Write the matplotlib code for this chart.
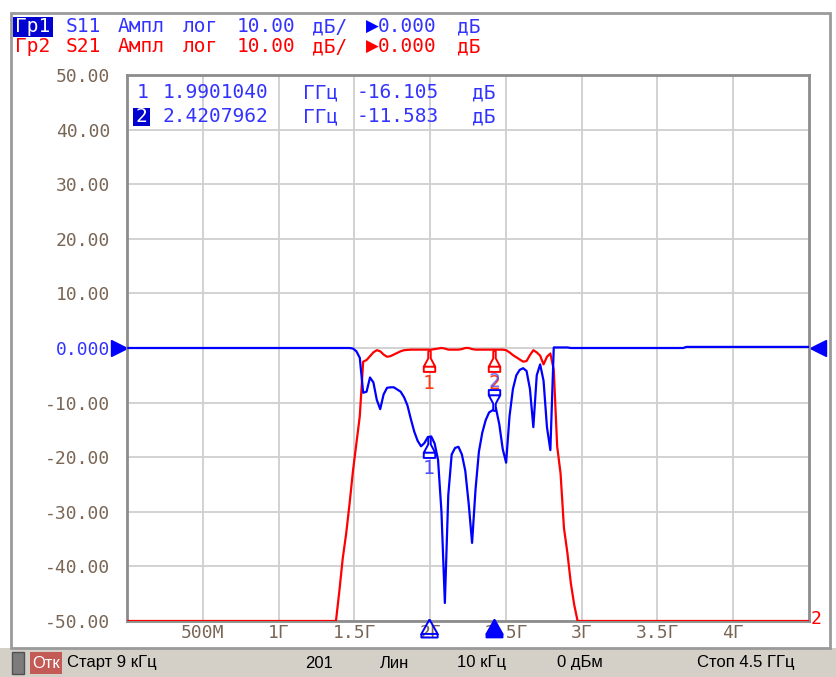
import numpy as np
import matplotlib.pyplot as plt
from matplotlib.path import Path
from matplotlib.patches import Rectangle
from matplotlib import transforms

W, H = 836, 677

# sweep settings
f_start, f_stop, n_pts = 0.009, 4.5, 201
freq = np.linspace(f_start, f_stop, n_pts)

# S21 (dB), points 61..132; outside this range the trace sits at -50
s21_first = 61
s21_band = [-50.0, -44.5, -38.5, -34.0, -28.5, -22.5, -17.5, -12.5, -2.5, -2.2,
            -1.5, -0.8, -0.4, -0.6, -1.2, -1.6, -1.5, -1.2, -0.9, -0.6,
            -0.4, -0.35, -0.3, -0.3, -0.3, -0.3, -0.3, -0.3, -0.3, -0.2,
            -0.1, 0.0, -0.1, -0.3, -0.3, -0.3, -0.3, -0.2, 0.0, 0.0,
            -0.2, -0.3, -0.3, -0.3, -0.3, -0.3, -0.3, -0.3, -0.3, -0.3,
            -0.4, -0.8, -1.3, -1.7, -2.1, -2.5, -2.4, -1.3, -0.4, -0.8,
            -1.4, -3.0, -1.6, -1.0, -4.0, -18.0, -23.0, -33.0, -37.5, -43.0,
            -47.0, -50.0]
s21_floor = -50.0

# S11 (dB), points 66..125
s11_first = 66
s11_band = [-0.1, -0.6, -1.8, -8.2, -8.0, -5.4, -6.3, -9.5, -11.2, -8.5,
            -7.3, -7.2, -7.2, -7.6, -8.0, -9.0, -10.5, -13.0, -15.3, -17.0,
            -18.0, -17.4, -16.3, -16.2, -17.5, -20.5, -30.0, -46.7, -27.0, -19.5,
            -18.3, -18.1, -19.5, -22.5, -28.5, -35.7, -26.0, -19.0, -15.5, -13.2,
            -11.8, -11.4, -11.0, -14.0, -18.5, -21.0, -12.5, -7.5, -5.0, -4.0,
            -3.7, -4.2, -7.5, -14.5, -5.0, -3.0, -6.0, -14.5, -18.7, 0.1]
s11_tail = [0.1, 0.1, 0.1, 0.1] + [0.0] * 34 + [0.2] * 37

# markers on S11
mk_freq = [1.9901040, 2.4207962]
mk_s11 = [-16.105, -11.583]

x_ticks = [0.5, 1.0, 1.5, 2.0, 2.5, 3.0, 3.5, 4.0]
x_labels = ['500М', '1Г', '1.5Г', '2Г', '2.5Г', '3Г', '3.5Г', '4Г']
y_ticks = [50, 40, 30, 20, 10, 0, -10, -20, -30, -40, -50]
y_labels = ['50.00', '40.00', '30.00', '20.00', '10.00', '0.000',
            '-10.00', '-20.00', '-30.00', '-40.00', '-50.00']

s21 = np.full(n_pts, s21_floor)
s21[s21_first:s21_first + len(s21_band)] = s21_band
s11 = np.zeros(n_pts)
s11[s11_first:s11_first + len(s11_band)] = s11_band
s11[n_pts - len(s11_tail):] = s11_tail

BLUE = '#0000ff'
TBLUE = '#3333ff'
RED = '#ff0000'
LBL = '#7a6656'
MONO = ['DejaVu Sans Mono', 'DejaVu Sans']
SANS = ['Liberation Sans', 'DejaVu Sans']


def fx(x):
    return x / W


def fy(y):
    return 1 - y / H


fig = plt.figure(figsize=(W / 100, H / 100), dpi=100)
fig.patch.set_facecolor('white')

# status bar and window frame
fig.patches.append(Rectangle((0, 0), 1, fy(648), transform=fig.transFigure,
                             facecolor='#d4d0c8', edgecolor='none', zorder=0))
fig.patches.append(Rectangle((fx(11), fy(648)), fx(830 - 11), (648 - 13) / H,
                             transform=fig.transFigure, facecolor='none',
                             edgecolor='#9a9a9a', lw=2, zorder=1))
fig.patches.append(Rectangle((fx(12), fy(674)), fx(12), 22 / H, transform=fig.transFigure,
                             facecolor='#7c7c7c', edgecolor='#505050', lw=1, zorder=1))
fig.patches.append(Rectangle((fx(30), fy(674)), fx(32), 22 / H, transform=fig.transFigure,
                             facecolor='#c45a55', edgecolor='none', zorder=1))
fig.text(fx(46), fy(663), 'Отк', color='white', fontsize=12, family=SANS,
         ha='center', va='center')
status = [(67, 'Старт 9 кГц'), (305, '201'), (380, 'Лин'), (457, '10 кГц'),
          (557, '0 дБм'), (697, 'Стоп 4.5 ГГц')]
for x, s in status:
    fig.text(fx(x), fy(663), s, color='black', fontsize=12, family=SANS,
             ha='left', va='center')

ax = fig.add_axes([fx(127), fy(621), fx(809 - 127), (621 - 75) / H])
ax.set_xlim(0, f_stop)
ax.set_ylim(-50, 50)
for sp in ax.spines.values():
    sp.set_color('#8c8c8c')
    sp.set_linewidth(2)
ax.set_xticks(x_ticks)
ax.set_xticklabels(x_labels)
ax.set_yticks(y_ticks)
ax.set_yticklabels(y_labels)
ax.tick_params(length=0, labelsize=13, labelcolor=LBL)
ax.tick_params(axis='y', pad=12)
ax.tick_params(axis='x', pad=2)
for t in ax.get_xticklabels() + ax.get_yticklabels():
    t.set_family(MONO)
ax.get_yticklabels()[5].set_color(TBLUE)
ax.grid(True, color='#cfcfcf', lw=1.3)
ax.set_axisbelow(True)

ax.plot(freq, s21, color=RED, lw=1.6, zorder=3)
ax.plot(freq, s11, color=BLUE, lw=1.6, zorder=4)

# marker glyph: stem, flared body and base bar
mk_up = Path([(-0.12, 1.0), (0.12, 1.0), (0.12, 0.3), (0.55, -0.5), (0.55, -1.0),
              (-0.55, -1.0), (-0.55, -0.5), (-0.12, 0.3), (-0.12, 1.0),
              (-0.55, -0.5), (0.55, -0.5)],
             [Path.MOVETO] + [Path.LINETO] * 8 + [Path.MOVETO, Path.LINETO])
mk_dn = Path(mk_up.vertices * [1, -1], mk_up.codes)
# flat triangle with base bar for the frequency axis
mk_axis = Path([(0, 1.0), (0.9, -0.6), (-0.9, -0.6), (0, 1.0),
                (-0.9, -0.6), (-0.9, -1.0), (0.9, -1.0), (0.9, -0.6)],
               [Path.MOVETO, Path.LINETO, Path.LINETO, Path.LINETO,
                Path.MOVETO, Path.LINETO, Path.LINETO, Path.LINETO])


def shifted(dy_px):
    return transforms.offset_copy(ax.transData, fig=fig, x=0, y=-dy_px * 0.72, units='points')


mk_s21 = np.interp(mk_freq, freq, s21)
for i, (f, v) in enumerate(zip(mk_freq, mk_s21)):
    ax.plot([f], [v], marker=mk_up, ms=15, mfc='white', mec=RED, mew=1.4,
            transform=shifted(11), zorder=5)
    ax.text(f, v, str(i + 1), color='#ff3a10', fontsize=14, family=MONO,
            ha='center', va='center', transform=shifted(34), zorder=6)

ax.plot([mk_freq[0]], [mk_s11[0]], marker=mk_up, ms=15, mfc='white', mec=BLUE, mew=1.4,
        transform=shifted(11), zorder=6)
ax.text(mk_freq[0], mk_s11[0], '1', color='#5050ff', fontsize=14, family=MONO,
        ha='center', va='center', transform=shifted(33), zorder=6)
ax.plot([mk_freq[1]], [mk_s11[1]], marker=mk_dn, ms=15, mfc='white', mec=BLUE, mew=1.4,
        transform=shifted(-11), zorder=6)
ax.text(mk_freq[1], mk_s11[1], '2', color='#5050ff', fontsize=14, family=MONO,
        ha='center', va='center', transform=shifted(-30), zorder=7, alpha=0.8)

# marker positions along the frequency axis
ax.plot([mk_freq[0]], [-50], marker=mk_axis, ms=13, mfc='none', mec=BLUE, mew=1.4,
        transform=shifted(7), clip_on=False, zorder=8)
ax.plot([mk_freq[1]], [-50], marker=mk_axis, ms=13, mfc=BLUE, mec=BLUE, mew=1.2,
        transform=shifted(7), clip_on=False, zorder=8)

# reference level pointers
ref_tr = transforms.blended_transform_factory(ax.transAxes, ax.transData)
ax.plot([-0.012], [0], marker='>', ms=12, color=BLUE, transform=ref_tr, clip_on=False)
ax.plot([1.013], [0], marker='<', ms=12, color=BLUE, transform=ref_tr, clip_on=False)
fig.text(fx(816), fy(619), '2', color=RED, fontsize=13, family=MONO,
         ha='center', va='center')

# marker readout
for row, (f, v) in enumerate(zip(mk_freq, mk_s11)):
    y = 93 + 24 * row
    parts = [(163, f'{f:.7f}'), (303, 'ГГц'), (357, f'{v:.3f}'), (472, 'дБ')]
    for x, s in parts:
        fig.text(fx(x), fy(y), s, color=TBLUE, fontsize=14, family=MONO,
                 ha='left', va='center')
fig.text(fx(137), fy(93), '1', color=TBLUE, fontsize=14, family=MONO,
         ha='left', va='center')
fig.patches.append(Rectangle((fx(133), fy(126)), fx(17), 18 / H, transform=fig.transFigure,
                             facecolor='#0000d0', edgecolor='none', zorder=5))
fig.text(fx(141.5), fy(117), '2', color='white', fontsize=14, family=MONO,
         ha='center', va='center', zorder=6)

# trace headers
fig.patches.append(Rectangle((fx(13), fy(37)), fx(40), 20 / H, transform=fig.transFigure,
                             facecolor='#0000d0', edgecolor='none', zorder=5))
hdr = [('Гр1', 'S11', TBLUE, BLUE, 27), ('Гр2', 'S21', RED, RED, 47)]
for name, par, col, tri, y in hdr:
    fig.text(fx(15), fy(y), name, color='white' if name == 'Гр1' else col,
             fontsize=14, family=MONO, ha='left', va='center', zorder=6)
    parts = [(66, par), (118, 'Ампл'), (183, 'лог'), (237, '10.00'),
             (312, 'дБ/'), (378, '0.000'), (457, 'дБ')]
    for x, s in parts:
        fig.text(fx(x), fy(y), s, color=col, fontsize=14, family=MONO,
                 ha='left', va='center')
    fig.text(fx(366), fy(y), '▶', color=tri, fontsize=12, family=['DejaVu Sans'],
             ha='left', va='center')

fig.savefig('out.png', dpi=100)
